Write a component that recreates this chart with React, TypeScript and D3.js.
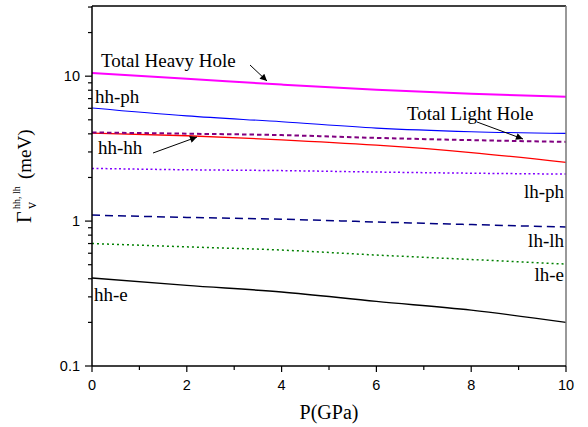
import React from "react";
import * as d3 from "d3";

const pressure = [0, 2, 4, 6, 8, 10];
const totalHeavyHole = [10.5, 9.6, 8.75, 8.05, 7.55, 7.2];
const hhPh = [6.04, 5.32, 4.85, 4.38, 4.14, 4.03];
const totalLightHole = [4.09, 4.01, 3.92, 3.75, 3.62, 3.52];
const hhHh = [4.05, 3.88, 3.64, 3.34, 2.97, 2.54];
const lhPh = [2.31, 2.26, 2.23, 2.18, 2.14, 2.11];
const lhLh = [1.1, 1.06, 1.03, 0.986, 0.946, 0.91];
const lhE = [0.7, 0.664, 0.631, 0.583, 0.543, 0.505];
const hhE = [0.405, 0.36, 0.324, 0.279, 0.243, 0.2];

const xMajorTicks = [0, 2, 4, 6, 8, 10];
const xMinorTicks = [1, 3, 5, 7, 9];
const yMajorTicks = [0.1, 1, 10];
const yTickLabels = ["0.1", "1", "10"];

const W = 588;
const H = 427;
const L = 92, R = 566, T = 6, B = 366;

const serif = "'Liberation Serif', 'Times New Roman', serif";
const sans = "'Liberation Sans', Arial, Helvetica, sans-serif";

export default function App() {
  const x = d3.scaleLinear().domain([0, 10]).range([L, R]);
  const y = d3.scaleLog().domain([0.1, 30.5]).range([B, T]);

  const line = (vals: number[]) =>
    d3
      .line<number>()
      .x((_, i) => x(pressure[i]))
      .y((d) => y(d))
      .curve(d3.curveMonotoneX)(vals) as string;

  const series = [
    { v: hhE, color: "#000000", w: 1.4, dash: "" },
    { v: lhE, color: "#008000", w: 1.5, dash: "2,3" },
    { v: lhLh, color: "#000080", w: 1.5, dash: "8,5" },
    { v: lhPh, color: "#8000ff", w: 1.5, dash: "2,2.5" },
    { v: hhHh, color: "#ff0000", w: 1.3, dash: "" },
    { v: hhPh, color: "#0000ff", w: 1.1, dash: "" },
    { v: totalLightHole, color: "#800080", w: 2, dash: "4.5,3" },
    { v: totalHeavyHole, color: "#ff00ff", w: 2, dash: "" },
  ];

  const yMinor: number[] = [];
  [0.1, 1, 10].forEach((d) => {
    for (let k = 2; k <= 9; k++) {
      const v = d * k;
      if (v <= 30.5) yMinor.push(v);
    }
  });

  return (
    <svg
      width={W}
      height={H}
      style={{ position: "absolute", left: 0, top: 0, background: "#fff" }}
    >
      <defs>
        <marker
          id="arr"
          viewBox="0 0 10 10"
          refX="10"
          refY="5"
          markerWidth="9"
          markerHeight="7"
          markerUnits="userSpaceOnUse"
          orient="auto"
        >
          <path d="M0,0 L10,5 L0,10 z" fill="#000" />
        </marker>
      </defs>
      <rect x={0} y={0} width={W} height={H} fill="#fff" />

      {/* series */}
      <g clipPath="none">
        {series.map((s, i) => (
          <path
            key={i}
            d={line(s.v)}
            fill="none"
            stroke={s.color}
            strokeWidth={s.w}
            strokeDasharray={s.dash || undefined}
          />
        ))}
      </g>

      {/* frame */}
      <line x1={L} y1={T} x2={R} y2={T} stroke="#000" strokeWidth={1.5} />
      <line x1={R} y1={T} x2={R} y2={B} stroke="#777" strokeWidth={1.5} />
      <line x1={L} y1={T} x2={L} y2={B} stroke="#000" strokeWidth={1.5} />
      <line x1={L} y1={B} x2={R} y2={B} stroke="#000" strokeWidth={1.5} />

      {/* x ticks */}
      {xMajorTicks.map((t) => (
        <g key={"xm" + t}>
          <line x1={x(t)} x2={x(t)} y1={B} y2={B + 6} stroke="#000" strokeWidth={1.2} />
          <text
            x={x(t)}
            y={390}
            textAnchor="middle"
            fontFamily={sans}
            fontSize={14.5}
            fill="#000"
          >
            {t}
          </text>
        </g>
      ))}
      {xMinorTicks.map((t) => (
        <line key={"xn" + t} x1={x(t)} x2={x(t)} y1={B} y2={B + 4} stroke="#000" strokeWidth={1.2} />
      ))}

      {/* y ticks */}
      {yMajorTicks.map((t, i) => (
        <g key={"ym" + t}>
          <line x1={L - 7} x2={L} y1={y(t)} y2={y(t)} stroke="#000" strokeWidth={1.2} />
          <text
            x={80}
            y={y(t) + 5}
            textAnchor="end"
            fontFamily={sans}
            fontSize={14.5}
            fill="#000"
          >
            {yTickLabels[i]}
          </text>
        </g>
      ))}
      {yMinor.map((t) => (
        <line key={"yn" + t} x1={L - 4} x2={L} y1={y(t)} y2={y(t)} stroke="#000" strokeWidth={1.2} />
      ))}

      {/* axis titles */}
      <text
        x={329}
        y={419}
        textAnchor="middle"
        fontFamily={serif}
        fontSize={20}
        fill="#000"
      >
        P(GPa)
      </text>
      <g transform="translate(31,223) rotate(-90)" fontFamily={serif} fill="#000">
        <text x={0} y={0} fontSize={20}>Γ</text>
        <text x={14} y={-11} fontSize={10}>hh, lh</text>
        <text x={14} y={5} fontSize={14}>v</text>
        <text x={44} y={0} fontSize={19}>(meV)</text>
      </g>

      {/* annotations */}
      <g fontFamily={serif} fontSize={19} fill="#000">
        <text x={101} y={67}>Total Heavy Hole</text>
        <text x={95} y={103}>hh-ph</text>
        <text x={98} y={154}>hh-hh</text>
        <text x={407} y={120}>Total Light Hole</text>
        <text x={564} y={198} textAnchor="end">lh-ph</text>
        <text x={564} y={247} textAnchor="end">lh-lh</text>
        <text x={564} y={281} textAnchor="end">lh-e</text>
        <text x={94} y={301}>hh-e</text>
      </g>
      <line x1={250} y1={65} x2={267} y2={81} stroke="#000" strokeWidth={1} markerEnd="url(#arr)" />
      <line x1={153} y1={153} x2={197} y2={137} stroke="#000" strokeWidth={1} markerEnd="url(#arr)" />
      <line x1={477} y1={122} x2={523} y2={139} stroke="#000" strokeWidth={1} markerEnd="url(#arr)" />
    </svg>
  );
}
